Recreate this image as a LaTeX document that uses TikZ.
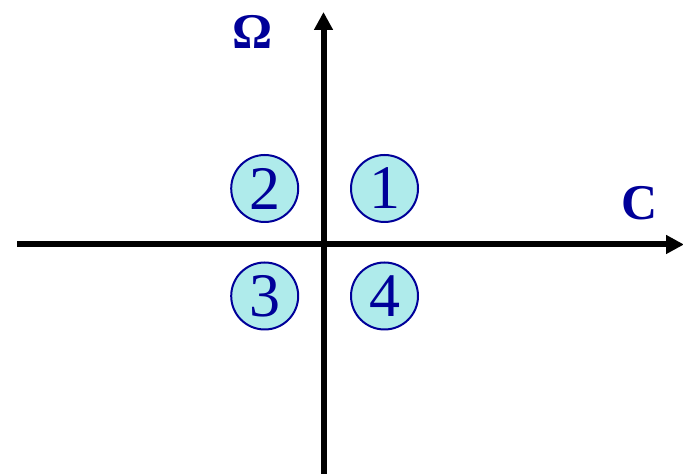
\documentclass[tikz,border=0pt]{standalone}
\usepackage{fontspec}
\setmainfont{Liberation Serif}
\usetikzlibrary{arrows.meta}
\definecolor{qfill}{RGB}{175,235,235}
\definecolor{qblue}{RGB}{0,0,153}
\tikzset{
  axis/.style={line width=6pt, -{Triangle[length=18pt,width=18pt]}},
  quad/.style={circle, draw=qblue, line width=2pt, fill=qfill, minimum size=67pt, inner sep=0pt, text=qblue, font=\fontsize{62}{62}\selectfont},
  axlabel/.style={inner sep=0pt, text=qblue, font=\bfseries\fontsize{50}{50}\selectfont}
}
\begin{document}
\begin{tikzpicture}[x=1pt,y=1pt]
\useasboundingbox (0,0) rectangle (683,474);
\coordinate (xs) at (17,229.5);
\coordinate (xe) at (684,229.5);
\coordinate (ys) at (323.5,-1);
\coordinate (ye) at (323.5,462);
\draw[axis] (xs) -- (xe);
\draw[axis] (ys) -- (ye);
\node[quad] (q1) at (384.5,285.5) {1};
\node[quad] (q2) at (264.7,285.5) {2};
\node[quad] (q3) at (264.7,178) {3};
\node[quad] (q4) at (384.5,178) {4};
\node[axlabel] (om) at (252.7,442) {Ω};
\node[axlabel] (c) at (640,270.5) {C};
\end{tikzpicture}
\end{document}
